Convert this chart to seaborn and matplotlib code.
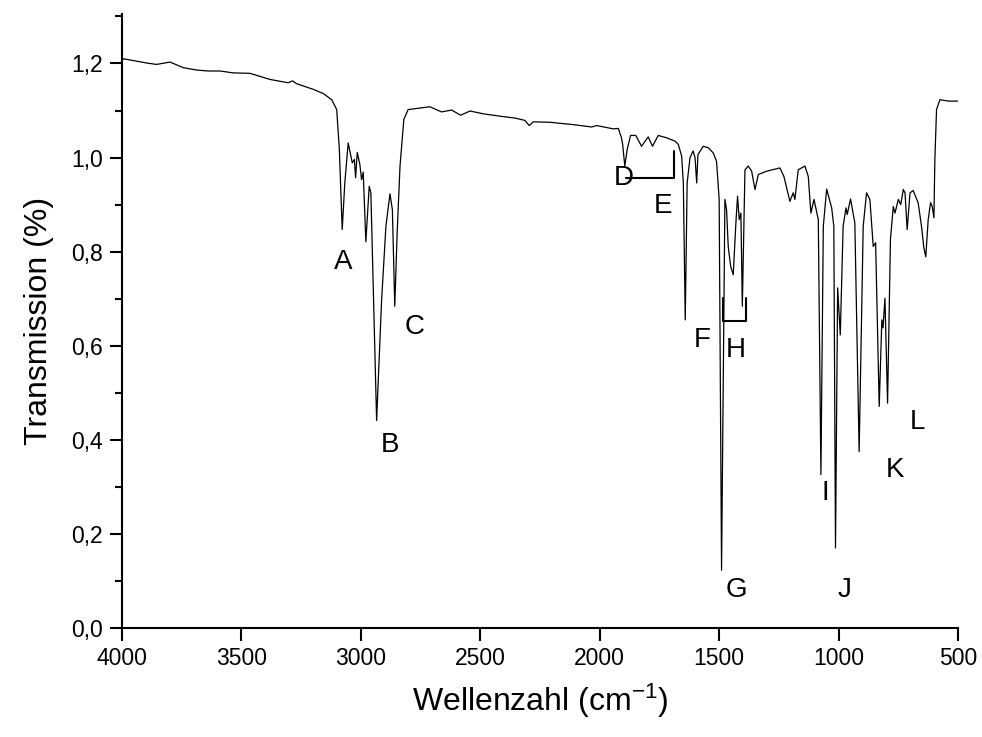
import numpy as np
import pandas as pd
import matplotlib
matplotlib.use('Agg')
import matplotlib.pyplot as plt
import seaborn as sns

# IR spectrum (wavenumber in cm-1, transmission)
wavenumber = [4000, 3994, 3897, 3855, 3799, 3743, 3687, 3639, 3590, 3534, 3464, 3380,
              3304, 3286, 3269, 3199, 3157, 3122, 3101, 3090, 3078, 3067, 3053, 3036,
              3027, 3022, 3015, 3004, 2997, 2990, 2979, 2965, 2958, 2934, 2913, 2895,
              2878, 2868, 2858, 2848, 2836, 2820, 2802, 2711, 2662, 2620, 2582, 2543,
              2487, 2418, 2355, 2313, 2295, 2278, 2208, 2111, 2034, 2013, 1943, 1922,
              1909, 1904, 1895, 1885, 1871, 1849, 1825, 1797, 1779, 1755, 1720, 1685,
              1671, 1657, 1650, 1642, 1634, 1622, 1609, 1601, 1594, 1589, 1567, 1546,
              1525, 1511, 1500, 1490, 1476, 1469, 1462, 1452, 1441, 1430, 1423, 1416,
              1409, 1403, 1392, 1378, 1364, 1350, 1336, 1301, 1246, 1229, 1204, 1190,
              1183, 1169, 1141, 1127, 1116, 1103, 1085, 1074, 1064, 1050, 1029, 1020,
              1013, 1004, 993, 981, 969, 964, 950, 932, 914, 897, 883, 869,
              855, 845, 830, 819, 814, 806, 795, 783, 771, 764, 750, 740,
              729, 722, 713, 701, 688, 667, 653, 643, 635, 625, 615, 608,
              601, 597, 590, 576, 540, 500]
transmission = [1.206, 1.210, 1.201, 1.198, 1.203, 1.191, 1.186, 1.184, 1.184, 1.180, 1.179, 1.166,
                1.159, 1.163, 1.157, 1.145, 1.136, 1.123, 1.102, 1.017, 0.847, 0.947, 1.031, 0.989,
                0.996, 0.957, 1.011, 0.985, 0.953, 0.969, 0.821, 0.939, 0.925, 0.441, 0.698, 0.854,
                0.923, 0.889, 0.684, 0.840, 0.982, 1.081, 1.102, 1.108, 1.097, 1.101, 1.090, 1.099,
                1.093, 1.088, 1.084, 1.079, 1.068, 1.076, 1.075, 1.070, 1.065, 1.068, 1.061, 1.062,
                1.042, 1.028, 0.982, 1.017, 1.047, 1.047, 1.024, 1.044, 1.024, 1.047, 1.042, 1.035,
                1.028, 1.003, 0.946, 0.655, 0.946, 1.000, 1.014, 1.000, 0.946, 1.006, 1.024, 1.021,
                1.010, 0.992, 0.911, 0.123, 0.911, 0.889, 0.811, 0.769, 0.751, 0.861, 0.918, 0.868,
                0.882, 0.684, 0.974, 0.982, 0.971, 0.932, 0.964, 0.971, 0.978, 0.960, 0.907, 0.925,
                0.911, 0.974, 0.982, 0.960, 0.882, 0.911, 0.868, 0.326, 0.854, 0.933, 0.893, 0.854,
                0.170, 0.723, 0.623, 0.854, 0.893, 0.879, 0.912, 0.861, 0.375, 0.854, 0.925, 0.911,
                0.811, 0.819, 0.471, 0.655, 0.638, 0.701, 0.478, 0.826, 0.896, 0.882, 0.911, 0.900,
                0.932, 0.925, 0.847, 0.925, 0.930, 0.904, 0.854, 0.808, 0.789, 0.868, 0.904, 0.896,
                0.872, 0.996, 1.102, 1.123, 1.120, 1.120]

# peak letters
peak_labels = ['A', 'B', 'C', 'D', 'E', 'F', 'G', 'H', 'I', 'J', 'K', 'L']
peak_x = [3075, 2878, 2774, 1899, 1735, 1572, 1426, 1430, 1057, 974, 764, 672]
peak_y = [0.779, 0.389, 0.640, 0.957, 0.896, 0.613, 0.081, 0.591, 0.287, 0.081, 0.336, 0.438]

# brackets grouping D-E and H
bracket_de_x = [1890, 1690, 1690]
bracket_de_y = [0.957, 0.957, 1.014]
bracket_h_x = [1485, 1485, 1389, 1389]
bracket_h_y = [0.702, 0.652, 0.652, 0.702]

x_ticks = [4000, 3500, 3000, 2500, 2000, 1500, 1000, 500]
y_ticks = [0.0, 0.2, 0.4, 0.6, 0.8, 1.0, 1.2]
y_tick_labels = ['0,0', '0,2', '0,4', '0,6', '0,8', '1,0', '1,2']

df = pd.DataFrame({'Wellenzahl': wavenumber, 'Transmission': transmission})

sns.set_style('ticks')
plt.rcParams['font.family'] = ['Liberation Sans', 'DejaVu Sans']
plt.rcParams['mathtext.default'] = 'regular'
plt.rcParams['text.color'] = 'black'
plt.rcParams['axes.labelcolor'] = 'black'
plt.rcParams['xtick.color'] = 'black'
plt.rcParams['ytick.color'] = 'black'
plt.rcParams['axes.edgecolor'] = 'black'

fig = plt.figure(figsize=(9.82, 7.37), dpi=100)
ax = fig.add_axes([0.1242, 0.1479, 0.8514, 0.833])

sns.lineplot(data=df, x='Wellenzahl', y='Transmission', ax=ax, color='black',
             linewidth=0.9, sort=False, estimator=None)

ax.plot(bracket_de_x, bracket_de_y, color='black', linewidth=1.5)
ax.plot(bracket_h_x, bracket_h_y, color='black', linewidth=1.5)

for lab, xx, yy in zip(peak_labels, peak_x, peak_y):
    ax.text(xx, yy, lab, fontsize=20, ha='center', va='center')

ax.set_xlim(4000, 500)
ax.set_ylim(0, 1.305)
ax.set_xticks(x_ticks)
ax.set_xticklabels([str(t) for t in x_ticks])
ax.set_yticks(y_ticks)
ax.set_yticklabels(y_tick_labels)
ax.yaxis.set_minor_locator(matplotlib.ticker.MultipleLocator(0.1))

ax.tick_params(axis='both', which='major', direction='out', length=9, width=1.5,
               labelsize=16.5, pad=5)
ax.tick_params(axis='y', which='minor', direction='out', length=5, width=1.5)
ax.set_xlabel('Wellenzahl (cm$^{-1}$)', fontsize=23, labelpad=8)
ax.set_ylabel('Transmission (%)', fontsize=23, labelpad=12)

sns.despine(ax=ax)
for sp in ['left', 'bottom']:
    ax.spines[sp].set_linewidth(1.5)

fig.savefig('out.png', dpi=100)
